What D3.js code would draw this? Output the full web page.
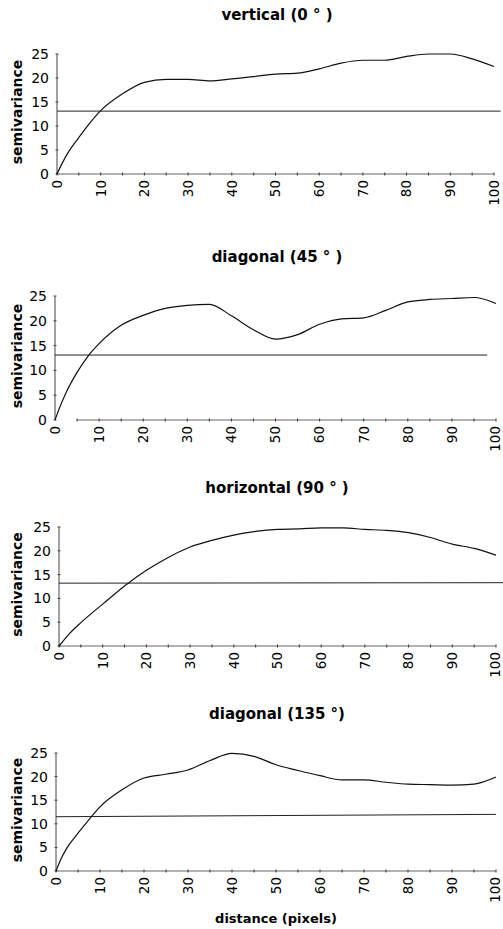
<!DOCTYPE html>
<html><head><meta charset="utf-8">
<script src="https://cdn.jsdelivr.net/npm/d3@7"></script>
<style>body{margin:0;background:#fff}svg{display:block}</style>
</head><body>
<svg id="c" width="503" height="929"></svg>
<script>
// ---- data ----
const titles = ["vertical (0 ° )", "diagonal (45 ° )", "horizontal (90 ° )", "diagonal (135 °)"];
const distances = [0, 1, 2.5, 5, 7.5, 10, 15, 20, 25, 30, 35, 40, 45, 50, 55, 60, 65, 70, 75, 80, 85, 90, 95, 100];
const vertical   = [0, 1.9, 4.4, 7.6, 10.6, 13.2, 16.7, 19.1, 19.7, 19.7, 19.4, 19.8, 20.3, 20.8, 21.0, 21.9, 23.1, 23.7, 23.7, 24.5, 25.0, 25.0, 24.0, 22.4];
const diag45     = [0, 2.4, 5.5, 9.6, 12.9, 15.4, 19.1, 21.1, 22.5, 23.1, 23.3, 21.0, 18.2, 16.3, 17.2, 19.3, 20.4, 20.6, 22.1, 23.8, 24.3, 24.5, 24.7, 23.5];
const horizontal = [0, 1.1, 2.7, 4.9, 6.9, 8.8, 12.6, 15.9, 18.6, 20.8, 22.2, 23.3, 24.1, 24.5, 24.6, 24.8, 24.8, 24.5, 24.3, 23.8, 22.8, 21.4, 20.5, 19.1];
const diag135    = [0, 2.3, 4.9, 8.0, 10.9, 13.6, 17.2, 19.7, 20.5, 21.4, 23.4, 24.9, 24.3, 22.5, 21.3, 20.2, 19.3, 19.3, 18.8, 18.4, 18.3, 18.2, 18.4, 19.9];
const series = [vertical, diag45, horizontal, diag135];
const sillStart = [13.1, 13.1, 13.2, 11.5];
const sillEnd   = [13.1, 13.1, 13.3, 12.0];
const sillEndX  = [101.5, 98, 103, 100];
const axisStartX = [0, 5, 0, 0];
const yTicks = [0, 5, 10, 15, 20, 25];
const xTicks = [0, 10, 20, 30, 40, 50, 60, 70, 80, 90, 100];
const xMinor = d3.range(0, 101, 5);
const yTitle = "semivariance";
const xTitle = "distance (pixels)";

// ---- layout ----
const layout = [
  {x0: 57, x1: 494, y0: 174, y1: 54},
  {x0: 55, x1: 496, y0: 420, y1: 296},
  {x0: 59, x1: 496, y0: 646, y1: 527},
  {x0: 56, x1: 496, y0: 871, y1: 753}
];
const font = "'DejaVu Sans', sans-serif";
const svg = d3.select("#c");

layout.forEach((L, i) => {
  const x = d3.scaleLinear().domain([0, 100]).range([L.x0, L.x1]);
  const y = d3.scaleLinear().domain([0, 25]).range([L.y0, L.y1]);
  const g = svg.append("g");

  // title
  g.append("text").attr("x", 277).attr("y", L.y1 - 34)
    .attr("text-anchor", "middle").attr("font-family", font)
    .attr("font-weight", "bold").attr("font-size", 15).text(titles[i]);

  // y axis
  g.append("line").attr("x1", L.x0).attr("x2", L.x0).attr("y1", y(0)).attr("y2", y(25))
    .attr("stroke", "#444").attr("stroke-width", 1);
  g.selectAll(".yt").data(yTicks).join("line")
    .attr("x1", L.x0 - 1.5).attr("x2", L.x0 + 1.5)
    .attr("y1", d => y(d)).attr("y2", d => y(d)).attr("stroke", "#444");
  g.selectAll(".yl").data(yTicks).join("text")
    .attr("x", L.x0 - 8).attr("y", d => y(d)).attr("dy", "0.36em")
    .attr("text-anchor", "end").attr("font-family", font).attr("font-size", 14)
    .text(d => d);

  // x axis
  g.append("line").attr("x1", x(axisStartX[i])).attr("x2", x(100)).attr("y1", y(0)).attr("y2", y(0))
    .attr("stroke", "#666").attr("stroke-width", 1);
  g.selectAll(".xt").data(xMinor.filter(d => d >= axisStartX[i])).join("line")
    .attr("x1", d => x(d)).attr("x2", d => x(d))
    .attr("y1", y(0) - 1.5).attr("y2", y(0) + 1.5).attr("stroke", "#333");
  g.selectAll(".xl").data(xTicks).join("text")
    .attr("transform", d => `translate(${Math.min(x(d), 495)},${y(0) + 6}) rotate(-90)`)
    .attr("dy", "0.36em").attr("text-anchor", "end")
    .attr("font-family", font).attr("font-size", 13.5).text(d => d);

  // y title
  g.append("text")
    .attr("transform", `translate(17,${(L.y0 + L.y1) / 2 - 2}) rotate(-90)`)
    .attr("dy", "0.36em").attr("text-anchor", "middle")
    .attr("font-family", font).attr("font-weight", "bold").attr("font-size", 14)
    .text(yTitle);

  // sill line
  g.append("line").attr("x1", x(0)).attr("x2", x(sillEndX[i]))
    .attr("y1", y(sillStart[i])).attr("y2", y(sillEnd[i]))
    .attr("stroke", "#222").attr("stroke-width", 1);

  // curve
  const line = d3.line().x((d, k) => x(distances[k])).y(d => y(d)).curve(d3.curveMonotoneX);
  g.append("path").datum(series[i]).attr("d", line)
    .attr("fill", "none").attr("stroke", "#111").attr("stroke-width", 1.2);
});

svg.append("text").attr("x", 276).attr("y", 918).attr("dy", "0.36em")
  .attr("text-anchor", "middle").attr("font-family", font)
  .attr("font-weight", "bold").attr("font-size", 13).text(xTitle);
</script>
</body></html>
